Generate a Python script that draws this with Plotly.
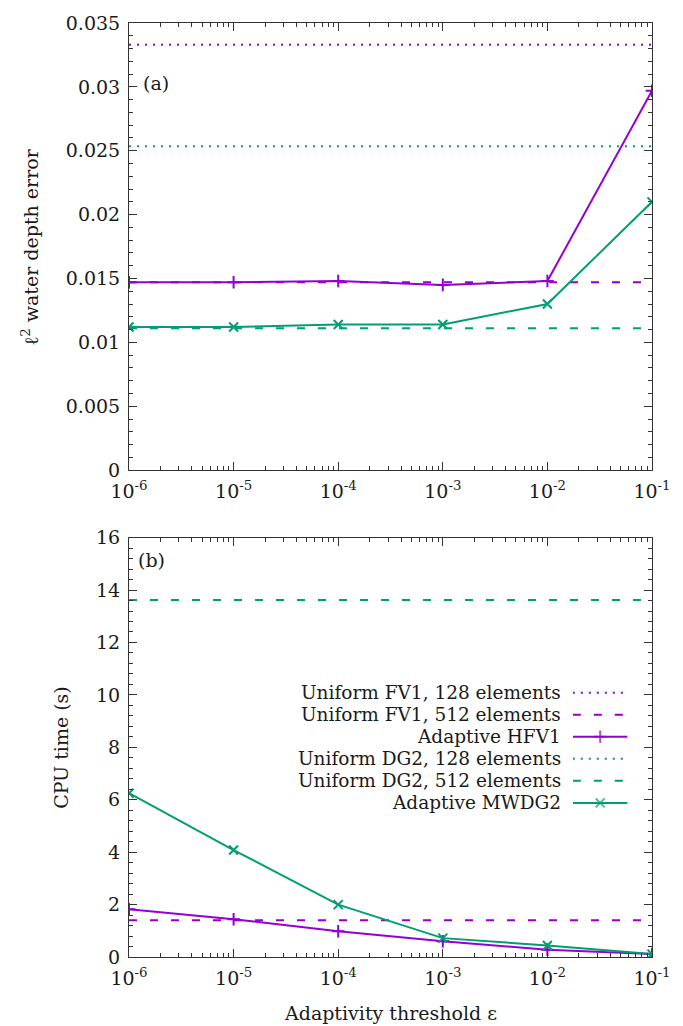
import plotly.graph_objects as go

# ---------------- data ----------------
eps = [1e-6, 1e-5, 1e-4, 1e-3, 1e-2, 1e-1]
x_tick_vals = [1e-6, 1e-5, 1e-4, 1e-3, 1e-2, 1e-1]
x_tick_text = ["10<sup>-6</sup>", "10<sup>-5</sup>", "10<sup>-4</sup>",
               "10<sup>-3</sup>", "10<sup>-2</sup>", "10<sup>-1</sup>"]

# panel (a): l2 water depth error
err_fv1_128 = 0.0333
err_fv1_512 = 0.0147
err_hfv1 = [0.0147, 0.0147, 0.0148, 0.0145, 0.0148, 0.0297]
err_dg2_128 = 0.02535
err_dg2_512 = 0.0111
err_mwdg2 = [0.0112, 0.0112, 0.0114, 0.0114, 0.0130, 0.0210]
err_tick_vals = [0, 0.005, 0.01, 0.015, 0.02, 0.025, 0.03, 0.035]
err_tick_text = ["0", "0.005", "0.01", "0.015", "0.02", "0.025", "0.03", "0.035"]

# panel (b): CPU time
cpu_fv1_512 = 1.40
cpu_hfv1 = [1.82, 1.44, 0.98, 0.60, 0.28, 0.11]
cpu_dg2_512 = 13.62
cpu_mwdg2 = [6.25, 4.08, 2.00, 0.72, 0.44, 0.11]
cpu_tick_vals = [0, 2, 4, 6, 8, 10, 12, 14, 16]

legend_labels = ["Uniform FV1, 128 elements", "Uniform FV1, 512 elements", "Adaptive HFV1",
                 "Uniform DG2, 128 elements", "Uniform DG2, 512 elements", "Adaptive MWDG2"]

# minor log tick positions (2..9 within each decade)
x_minor_vals = [m * d for d in x_tick_vals[:-1] for m in range(2, 10)]

# ---------------- style ----------------
PURPLE = "#9400d3"
GREEN = "#009e73"
FONT = "DejaVu Serif"
TXT = "#1a1a1a"
FS = 19
FS_LEG = 18.5
DOT = "2px,6px"
DASH = "8px,13px"
LW = 2
MS = 9

fig = go.Figure()

def hline(val, color, dash, xa, ya):
    fig.add_trace(go.Scatter(x=[eps[0], eps[-1]], y=[val, val], mode="lines",
                             line=dict(color=color, width=LW, dash=dash),
                             xaxis=xa, yaxis=ya, showlegend=False, hoverinfo="skip"))

def curve(vals, color, sym, xa, ya):
    fig.add_trace(go.Scatter(x=eps, y=vals, mode="lines+markers",
                             line=dict(color=color, width=LW),
                             marker=dict(symbol=sym, size=MS, color=color,
                                         line=dict(color=color, width=2)),
                             xaxis=xa, yaxis=ya, showlegend=False))

# panel (a)
hline(err_fv1_128, PURPLE, DOT, "x", "y")
hline(err_fv1_512, PURPLE, DASH, "x", "y")
hline(err_dg2_128, GREEN, DOT, "x", "y")
hline(err_dg2_512, GREEN, DASH, "x", "y")
curve(err_hfv1, PURPLE, "cross-thin", "x", "y")
curve(err_mwdg2, GREEN, "x-thin", "x", "y")

# panel (b)
hline(cpu_dg2_512, GREEN, DASH, "x2", "y2")
hline(cpu_fv1_512, PURPLE, DASH, "x2", "y2")
curve(cpu_hfv1, PURPLE, "cross-thin", "x2", "y2")
curve(cpu_mwdg2, GREEN, "x-thin", "x2", "y2")

# manual gnuplot-style legend (text left, sample right)
leg_styles = [(PURPLE, DOT, None), (PURPLE, DASH, None), (PURPLE, None, "cross-thin"),
              (GREEN, DOT, None), (GREEN, DASH, None), (GREEN, None, "x-thin")]
for i, (lab, (col, dash, sym)) in enumerate(zip(legend_labels, leg_styles)):
    if sym is None:
        fig.add_trace(go.Scatter(x=[0, 1], y=[i, i], mode="lines",
                                 line=dict(color=col, width=LW, dash=dash),
                                 xaxis="x3", yaxis="y3", showlegend=False, hoverinfo="skip"))
    else:
        fig.add_trace(go.Scatter(x=[0, 0.5, 1], y=[i, i, i], mode="lines+markers",
                                 line=dict(color=col, width=LW),
                                 marker=dict(symbol=sym, size=[0, MS, 0], color=col,
                                             line=dict(color=col, width=2)),
                                 xaxis="x3", yaxis="y3", showlegend=False, hoverinfo="skip"))
    fig.add_annotation(text=lab, xref="paper", yref="y3", x=(573 - 129) / 535, y=i,
                       xanchor="right", yanchor="middle", showarrow=False,
                       font=dict(family=FONT, size=FS_LEG, color=TXT))

H_TOP = 1.0
A_BOT = 0.5213
B_TOP = 0.449

common_x = dict(type="log", range=[-6, -1], tickmode="array", tickvals=x_tick_vals,
                ticktext=x_tick_text, ticks="inside", ticklen=8, tickwidth=1,
                tickcolor="#333", showline=True, linecolor="#333", linewidth=1,
                mirror="ticks", showgrid=False, zeroline=False, ticklabelstandoff=4,
                tickfont=dict(family=FONT, size=FS, color=TXT),
                minor=dict(tickmode="array", tickvals=x_minor_vals, ticks="inside",
                           ticklen=4, tickwidth=1, tickcolor="#333", showgrid=False))
common_y = dict(ticks="inside", ticklen=8, tickwidth=1, tickcolor="#333",
                showline=True, linecolor="#333", linewidth=1, mirror="ticks",
                showgrid=False, zeroline=False, ticklabelstandoff=4,
                tickfont=dict(family=FONT, size=FS, color=TXT))

fig.update_layout(
    width=683, height=1026,
    margin=dict(l=129, r=19, t=17, b=69),
    paper_bgcolor="white", plot_bgcolor="white",
    font=dict(family=FONT, size=FS, color=TXT),
    xaxis=dict(**common_x, domain=[0, 1], anchor="y"),
    yaxis=dict(**common_y, domain=[A_BOT, H_TOP], anchor="x", range=[0, 0.035],
               tickmode="array", tickvals=err_tick_vals, ticktext=err_tick_text,
               minor=dict(ticks="inside", ticklen=4, tickwidth=1, tickcolor="#333",
                          dtick=0.001, showgrid=False)),
    xaxis2=dict(**common_x, domain=[0, 1], anchor="y2"),
    yaxis2=dict(**common_y, domain=[0, B_TOP], anchor="x2", range=[0, 16],
                tickmode="array", tickvals=cpu_tick_vals,
                minor=dict(ticks="inside", ticklen=4, tickwidth=1, tickcolor="#333",
                           dtick=0.4, showgrid=False)),
    xaxis3=dict(domain=[0.8486, 0.9533], range=[0, 1], visible=False, anchor="y3",
                fixedrange=True),
    yaxis3=dict(domain=[0.1532, 0.2947], range=[5.5, -0.5], visible=False, anchor="x3",
                fixedrange=True),
    showlegend=False,
)

# panel labels
fig.add_annotation(text="(a)", xref="paper", yref="paper", x=0.022, y=(957 - 77) / 940,
                   xanchor="left", yanchor="middle", showarrow=False,
                   font=dict(family=FONT, size=FS, color=TXT))
fig.add_annotation(text="(b)", xref="paper", yref="paper", x=0.013, y=(957 - 557) / 940,
                   xanchor="left", yanchor="middle", showarrow=False,
                   font=dict(family=FONT, size=FS, color=TXT))

# axis titles
fig.add_annotation(text="ℓ<sup>2</sup> water depth error", xref="paper", yref="paper",
                   x=(27 - 129) / 535, y=(A_BOT + H_TOP) / 2, textangle=-90,
                   xanchor="center", yanchor="middle", showarrow=False,
                   font=dict(family=FONT, size=FS, color=TXT))
fig.add_annotation(text="CPU time (s)", xref="paper", yref="paper",
                   x=(60 - 129) / 535, y=B_TOP / 2, textangle=-90,
                   xanchor="center", yanchor="middle", showarrow=False,
                   font=dict(family=FONT, size=FS, color=TXT))
fig.add_annotation(text="Adaptivity threshold ε", xref="paper", yref="paper",
                   x=0.5, y=(957 - 1013) / 940,
                   xanchor="center", yanchor="middle", showarrow=False,
                   font=dict(family=FONT, size=FS, color=TXT))

fig.write_html("out.html")
